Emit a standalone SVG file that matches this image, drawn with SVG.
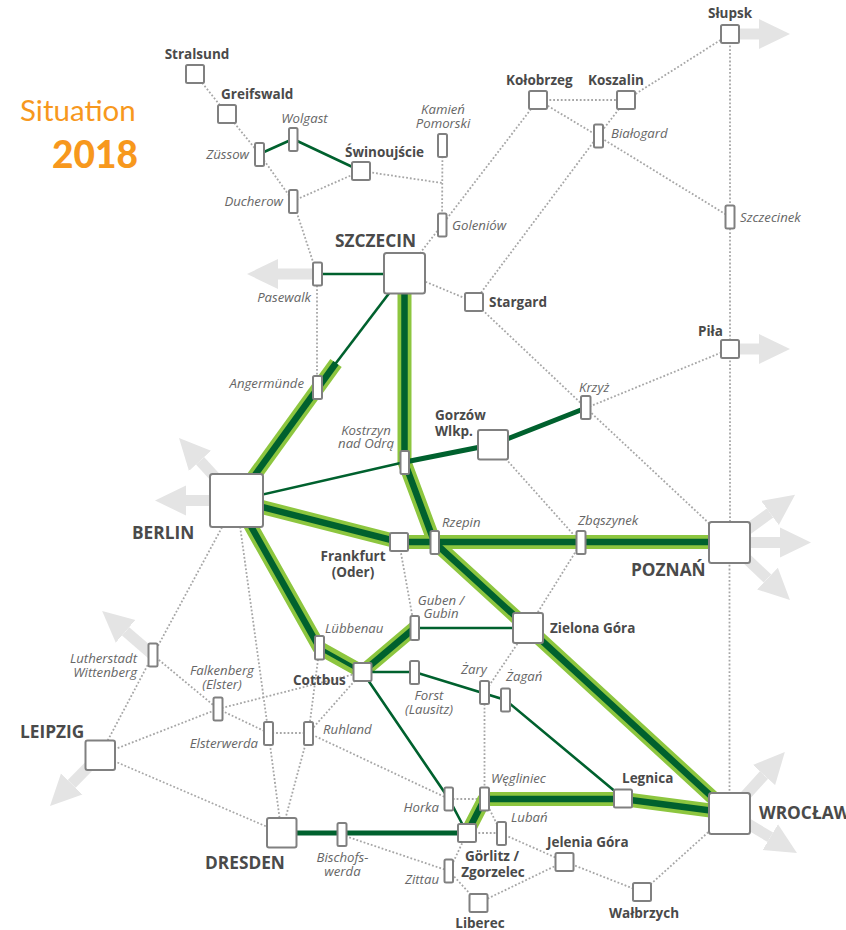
<svg xmlns="http://www.w3.org/2000/svg" width="846" height="930" viewBox="0 0 846 930">
<style>
text{font-family:"Open Sans","Liberation Sans",sans-serif}
.d{fill:none;stroke:#a6a6a6;stroke-width:1.800;stroke-dasharray:1.800 2}
.a{fill:none;stroke:#e4e4e4;stroke-width:11;marker-end:url(#h)}
.l{fill:none;stroke:#8dc63f;stroke-width:14}
.k{fill:none;stroke:#00612e;stroke-width:6.5}
.k5{fill:none;stroke:#00612e;stroke-width:5}
.k3{fill:none;stroke:#00612e;stroke-width:2.6}
.n rect{fill:#fff;stroke:#808080;stroke-width:2}
.b{font-weight:700;font-size:13.5px;fill:#4a4a4a}
.B{font-weight:700;font-size:17.300px;fill:#4a4a4a}
.i{font-style:italic;font-size:13.200px;fill:#666}
.m{text-anchor:middle}
.e{text-anchor:end}
</style>
<defs>
<marker id="h" markerUnits="userSpaceOnUse" markerWidth="32" markerHeight="32" refX="0" refY="16" orient="auto" viewBox="0 0 32 32"><path d="M0,1L31,16L0,31z" fill="#e4e4e4"/></marker>
</defs>
<g id="title">
<text x="20" y="121" style="font-family:Lato,'Open Sans',sans-serif;font-size:29.500px;fill:#f7981d">Situation</text>
<text x="52" y="168" style="font-family:Lato,'Open Sans',sans-serif;font-size:37px;font-weight:900;fill:#f7981d">2018</text>
</g>
<g id="connectors">
<g id="arrows">
<path class="a" d="M730,34H759"/>
<path class="a" d="M730,349H759"/>
<path class="a" d="M317,274H278"/>
<path class="a" d="M729.500,542.500H780"/>
<path class="a" d="M729.500,542.500L770,513"/>
<path class="a" d="M729.500,542.500L767.500,578.600"/>
<path class="a" d="M236.500,500.500H186"/>
<path class="a" d="M236.500,500.500L200,460.800"/>
<path class="a" d="M153,655L125.600,631.300"/>
<path class="a" d="M100,755L71.700,783.900"/>
<path class="a" d="M729.500,813L764,775"/>
<path class="a" d="M729.500,813L770.300,837.200"/>
</g>
<g id="dotted">
<path class="d" d="M195,74L227,114"/>
<path class="d" d="M227,114L259.500,154"/>
<path class="d" d="M259.500,154L293,201"/>
<path class="d" d="M293,201L317,274"/>
<path class="d" d="M317,274V388"/>
<path class="d" d="M293,201L361,171"/>
<path class="d" d="M361,171L442,183"/>
<path class="d" d="M442.500,145L442,225"/>
<path class="d" d="M442,225L404.500,273"/>
<path class="d" d="M442,225L538,100"/>
<path class="d" d="M538,100H626"/>
<path class="d" d="M538,100L598,136"/>
<path class="d" d="M626,100L598,136"/>
<path class="d" d="M626,100L730,34"/>
<path class="d" d="M598,136L474,302"/>
<path class="d" d="M598,136L730,217"/>
<path class="d" d="M730,34V217"/>
<path class="d" d="M730,217V349"/>
<path class="d" d="M730,349V542"/>
<path class="d" d="M729.500,542V813"/>
<path class="d" d="M404.500,273L474,302"/>
<path class="d" d="M474,302L586,408"/>
<path class="d" d="M586,408L729.500,542.500"/>
<path class="d" d="M586,408L730,349"/>
<path class="d" d="M493,444.500L581,543"/>
<path class="d" d="M581,543L528,628"/>
<path class="d" d="M399,542L414.500,628"/>
<path class="d" d="M236.500,500.500L153,655"/>
<path class="d" d="M236.500,500.500L268.500,733"/>
<path class="d" d="M153,655L218,709"/>
<path class="d" d="M153,655L100,755"/>
<path class="d" d="M100,755L218,709"/>
<path class="d" d="M218,709L362.500,672"/>
<path class="d" d="M218,709L268.500,733"/>
<path class="d" d="M268.500,733H308.500"/>
<path class="d" d="M268.500,733L281.500,833"/>
<path class="d" d="M308.500,733L281.500,833"/>
<path class="d" d="M308.500,733L362.500,672"/>
<path class="d" d="M319.500,648L308.500,733"/>
<path class="d" d="M100,755L281.500,833"/>
<path class="d" d="M308.500,733L449,799"/>
<path class="d" d="M449,799H484.500"/>
<path class="d" d="M484.500,692.500L528,628"/>
<path class="d" d="M484.500,692.500V799"/>
<path class="d" d="M484.500,799L501.500,833.500"/>
<path class="d" d="M467,833H501.500"/>
<path class="d" d="M501.500,833.500L564.500,861.500"/>
<path class="d" d="M564.500,861.500L642,892"/>
<path class="d" d="M642,892L729.500,813"/>
<path class="d" d="M564.500,861.500L478.500,903"/>
<path class="d" d="M342,835L449,871"/>
<path class="d" d="M467,833L449,871"/>
<path class="d" d="M449,871L478.500,903"/>
</g>
<g id="light">
<path class="l" d="M236.500,500.500L336,363"/>
<path class="l" d="M404.500,273V462L434.500,542.500"/>
<path class="l" d="M236.500,500.500L399,542H729.500"/>
<path class="l" d="M434.500,542.500L528,628L729.500,813"/>
<path class="l" stroke-linejoin="bevel" d="M236.500,500.500L319.500,648L362.500,672L414.500,628"/>
<path class="l" stroke-linejoin="bevel" d="M467,833L484.500,799H623L729.500,813"/>
</g>
<g id="dark">
<path class="k" d="M236.500,500.500L336,363"/>
<path class="k" d="M404.500,273V462L434.500,542.500"/>
<path class="k" d="M236.500,500.500L399,542H729.500"/>
<path class="k" d="M434.500,542.500L528,628L729.500,813"/>
<path class="k" d="M236.500,500.500L319.500,648"/>
<path class="k5" style="stroke-width:4" d="M319.500,648L362.500,672"/>
<path class="k" d="M362.500,672L414.500,628"/>
<path class="k" d="M467,833L484.500,799H623L729.500,813"/>
<path class="k5" d="M281.500,833H467"/>
<path class="k5" d="M405,462L493,444.500L586,408"/>
<path class="k3" d="M236.500,500.500L405,462"/>
<path class="k3" d="M404.500,273L317,388"/>
<path class="k3" d="M317,274H404.500"/>
<path class="k3" d="M259.500,154L293,139L361,171"/>
<path class="k3" d="M414.500,628H528"/>
<path class="k3" d="M362.500,672H414.500L505.500,700L623,798"/>
<path class="k3" d="M362.500,672L449,799L467,833"/>
</g>
</g>
<g id="nodes" class="n">
<g id="stralsund"><rect x="186" y="65" width="18" height="18" rx="1.500"/><text class="b m" x="197" y="59">Stralsund</text></g>
<g id="greifswald"><rect x="218" y="105" width="18" height="18" rx="1.500"/><text class="b" x="221" y="99">Greifswald</text></g>
<g id="zussow"><rect x="255" y="143" width="9" height="23" rx="1.500"/><text class="i e" x="249" y="159">Züssow</text></g>
<g id="wolgast"><rect x="289" y="128" width="8.500" height="23" rx="1.500"/><text class="i m" x="304.500" y="123">Wolgast</text></g>
<g id="swinoujscie"><rect x="352" y="162" width="18" height="18" rx="1.500"/><text class="b" x="345" y="157">Świnoujście</text></g>
<g id="kamien"><rect x="438" y="134" width="9" height="23" rx="1.500"/><text class="i m" x="443" y="114">Kamień</text><text class="i m" x="443" y="128">Pomorski</text></g>
<g id="ducherow"><rect x="289" y="190" width="8.500" height="23" rx="1.500"/><text class="i e" x="283" y="206">Ducherow</text></g>
<g id="goleniow"><rect x="438" y="213.500" width="8.500" height="23" rx="1.500"/><text class="i" x="452" y="230">Goleniów</text></g>
<g id="szczecin"><rect x="384" y="253" width="41" height="40.500" rx="2.500"/><text class="B" x="335" y="247">SZCZECIN</text></g>
<g id="pasewalk"><rect x="313" y="262.500" width="9" height="23" rx="1.500"/><text class="i e" x="311" y="302">Pasewalk</text></g>
<g id="stargard"><rect x="465" y="293" width="18" height="18" rx="1.500"/><text class="b" x="489" y="307">Stargard</text></g>
<g id="kolobrzeg"><rect x="529" y="91" width="18" height="18" rx="1.500"/><text class="b" x="506" y="85">Kołobrzeg</text></g>
<g id="koszalin"><rect x="617" y="91" width="18" height="18" rx="1.500"/><text class="b" x="588" y="85">Koszalin</text></g>
<g id="bialogard"><rect x="594" y="124.500" width="9" height="23" rx="1.500"/><text class="i" x="611" y="138">Białogard</text></g>
<g id="slupsk"><rect x="721" y="25" width="18" height="18" rx="1.500"/><text class="b" x="708" y="18">Słupsk</text></g>
<g id="szczecinek"><rect x="725.500" y="205.500" width="9" height="23" rx="1.500"/><text class="i" x="740" y="222">Szczecinek</text></g>
<g id="pila"><rect x="721" y="340" width="18" height="18" rx="1.500"/><text class="b" x="698" y="336">Piła</text></g>
<g id="krzyz"><rect x="581" y="396" width="9.500" height="23" rx="1.500"/><text class="i" x="579" y="392">Krzyż</text></g>
<g id="gorzow"><rect x="478" y="430" width="30" height="29.500" rx="2"/><text class="b" x="435" y="420">Gorzów</text><text class="b" x="435" y="436">Wlkp.</text></g>
<g id="kostrzyn"><rect x="400.500" y="451" width="8.500" height="23" rx="1.500"/><text class="i m" x="366" y="435">Kostrzyn</text><text class="i m" x="366" y="448">nad Odrą</text></g>
<g id="angermunde"><rect x="313" y="376" width="9" height="23" rx="1.500"/><text class="i e" x="304" y="388">Angermünde</text></g>
<g id="berlin"><rect x="210" y="474" width="53" height="53" rx="2.500"/><text class="B" x="132" y="539">BERLIN</text></g>
<g id="frankfurt"><rect x="390" y="533" width="18" height="18" rx="1.500"/><text class="b m" x="353" y="561">Frankfurt</text><text class="b m" x="353" y="577">(Oder)</text></g>
<g id="rzepin"><rect x="430.500" y="531" width="8.500" height="23" rx="1.500"/><text class="i" x="442" y="527">Rzepin</text></g>
<g id="zbaszynek"><rect x="576.500" y="531" width="9" height="23" rx="1.500"/><text class="i" x="578" y="525">Zbąszynek</text></g>
<g id="poznan"><rect x="709" y="522" width="41" height="41" rx="2.500"/><text class="B" x="631" y="576">POZNAŃ</text></g>
<g id="zielona-gora"><rect x="513" y="613" width="30" height="30" rx="2"/><text class="b" x="550" y="633">Zielona Góra</text></g>
<g id="guben"><rect x="410.500" y="616" width="8.500" height="24" rx="1.500"/><text class="i m" x="441" y="605">Guben /</text><text class="i m" x="441" y="618">Gubin</text></g>
<g id="lubbenau"><rect x="315" y="636" width="9" height="23.500" rx="1.500"/><text class="i" x="325" y="633">Lübbenau</text></g>
<g id="cottbus"><rect x="353.500" y="663" width="18" height="18" rx="1.500"/><text class="b" x="293" y="685">Cottbus</text></g>
<g id="forst"><rect x="410" y="661" width="9" height="23" rx="1.500"/><text class="i m" x="429" y="700">Forst</text><text class="i m" x="429" y="714">(Lausitz)</text></g>
<g id="wittenberg"><rect x="148.500" y="643.500" width="9" height="23" rx="1.500"/><text class="i e" x="137" y="663">Lutherstadt</text><text class="i e" x="137" y="677">Wittenberg</text></g>
<g id="falkenberg"><rect x="213.500" y="697.500" width="9" height="23" rx="1.500"/><text class="i m" x="222" y="675">Falkenberg</text><text class="i m" x="222" y="689">(Elster)</text></g>
<g id="elsterwerda"><rect x="264" y="722" width="9" height="23" rx="1.500"/><text class="i e" x="258" y="748">Elsterwerda</text></g>
<g id="ruhland"><rect x="304" y="722" width="9" height="23" rx="1.500"/><text class="i" x="323" y="734">Ruhland</text></g>
<g id="leipzig"><rect x="85.500" y="740.500" width="29.500" height="29.500" rx="2"/><text class="B" x="20" y="738">LEIPZIG</text></g>
<g id="dresden"><rect x="267" y="818" width="29.500" height="29.500" rx="2"/><text class="B" x="205" y="869">DRESDEN</text></g>
<g id="bischofswerda"><rect x="337.500" y="823" width="9" height="23" rx="1.500"/><text class="i m" x="342.500" y="862">Bischofs-</text><text class="i m" x="342.500" y="876">werda</text></g>
<g id="zary"><rect x="480" y="681" width="9" height="23" rx="1.500"/><text class="i" x="461" y="674">Żary</text></g>
<g id="zagan"><rect x="501" y="688.500" width="9" height="23" rx="1.500"/><text class="i" x="506" y="681">Żagań</text></g>
<g id="horka"><rect x="444.500" y="787.500" width="8.500" height="23" rx="1.500"/><text class="i e" x="439" y="812">Horka</text></g>
<g id="wegliniec"><rect x="480" y="787.500" width="9" height="23" rx="1.500"/><text class="i" x="491" y="783">Węgliniec</text></g>
<g id="legnica"><rect x="614" y="789.500" width="18" height="18" rx="1.500"/><text class="b" x="622" y="783">Legnica</text></g>
<g id="wroclaw"><rect x="709" y="793" width="41" height="41" rx="2.500"/><text class="B" x="759" y="819">WROCŁAW</text></g>
<g id="gorlitz"><rect x="458" y="824" width="18" height="18" rx="1.500"/><text class="b m" x="492" y="861">Görlitz /</text><text class="b m" x="493" y="877">Zgorzelec</text></g>
<g id="luban"><rect x="497" y="822" width="9" height="23" rx="1.500"/><text class="i" x="511" y="822">Lubań</text></g>
<g id="jelenia-gora"><rect x="555.500" y="853" width="18" height="18" rx="1.500"/><text class="b" x="547" y="847">Jelenia Góra</text></g>
<g id="zittau"><rect x="444.500" y="859.500" width="8.500" height="23" rx="1.500"/><text class="i e" x="439" y="884">Zittau</text></g>
<g id="liberec"><rect x="469.500" y="894" width="18" height="18" rx="1.500"/><text class="b m" x="480" y="928">Liberec</text></g>
<g id="walbrzych"><rect x="633" y="883" width="18" height="18" rx="1.500"/><text class="b m" x="644" y="918">Wałbrzych</text></g>
</g>
</svg>
